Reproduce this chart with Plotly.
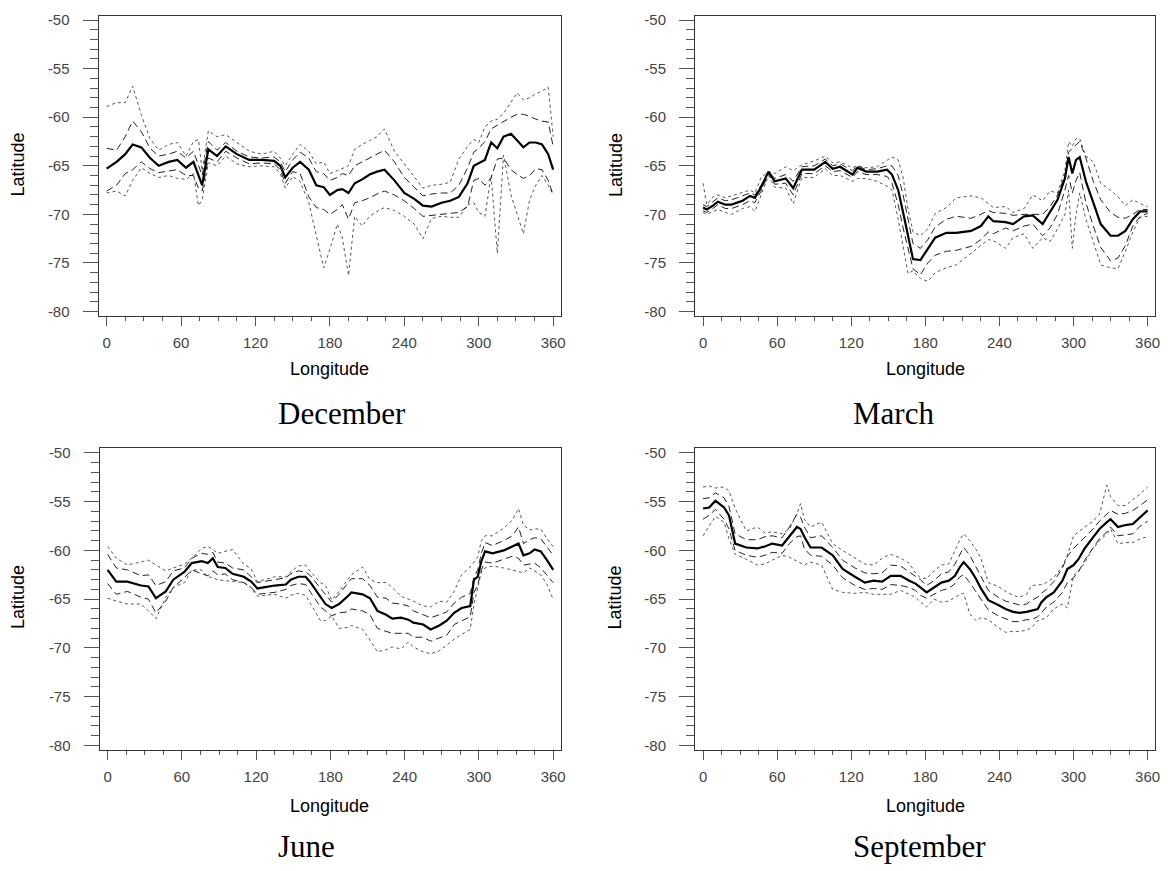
import plotly.graph_objects as go

# ---------------- DATA ----------------
months = ["December", "March", "June", "September"]
lon_ticks = [0, 60, 120, 180, 240, 300, 360]
lat_ticks = [-50, -55, -60, -65, -70, -75, -80]

dec_lon = [0, 8, 15, 21, 28, 35, 42, 50, 57, 64, 70, 74, 77, 82, 89, 96, 105, 115, 125, 135, 140, 144, 150, 156,
           163, 169, 175, 180, 186, 190, 195, 200, 206, 212, 218, 224, 232, 240, 248, 255, 262, 270, 277, 284, 291,
           296, 300, 305, 310, 315, 320, 326, 331, 336, 341, 346, 351, 356, 360]
dec_mid = [-65.3, -64.6, -63.8, -62.8, -63.1, -64.2, -65.0, -64.6, -64.4, -65.2, -64.6, -66.0, -67.0, -63.3, -64.0,
           -63.0, -63.8, -64.4, -64.4, -64.5, -65.0, -66.2, -65.2, -64.6, -65.4, -67.0, -67.2, -68.0, -67.5, -67.4,
           -67.8, -66.8, -66.4, -65.9, -65.6, -65.4, -66.5, -67.8, -68.4, -69.1, -69.2, -68.8, -68.6, -68.2, -66.8,
           -65.0, -64.7, -64.4, -62.6, -63.2, -62.0, -61.7, -62.4, -63.1, -62.6, -62.6, -62.8, -63.8, -65.4]
dec_up_in = [-63.2, -63.4, -62.0, -60.4, -61.5, -63.2, -64.0, -63.8, -63.5, -64.2, -63.5, -65.0, -66.0, -62.5, -63.4,
             -62.6, -63.5, -64.1, -64.2, -64.1, -64.6, -65.6, -64.4, -63.6, -64.2, -65.6, -65.8, -66.5, -66.2, -65.8,
             -66.0, -65.0, -64.6, -64.2, -63.8, -63.4, -64.6, -66.2, -67.2, -68.1, -67.9, -67.8, -67.8, -67.0, -65.2,
             -63.6, -63.2, -62.5, -61.2, -60.8, -60.4, -60.0, -59.7, -59.7, -59.9, -60.2, -60.4, -60.5, -63.0]
dec_up_out = [-58.9, -58.5, -58.5, -56.8, -59.8, -62.2, -63.4, -62.8, -62.6, -64.0, -62.5, -62.3, -65.5, -61.4, -62.0,
              -61.8, -62.6, -63.5, -63.8, -63.5, -64.2, -65.0, -63.8, -62.8, -63.5, -64.8, -64.6, -65.8, -65.5, -65.3,
              -65.0, -63.3, -62.8, -62.4, -62.0, -61.2, -63.5, -64.8, -66.2, -67.3, -67.0, -66.9, -66.7, -64.3, -63.0,
              -62.3, -62.6, -61.0, -60.4, -60.2, -59.6, -58.4, -57.5, -58.2, -58.0, -57.6, -57.3, -56.9, -62.0]
dec_lo_in = [-67.6, -67.0, -65.8, -65.4, -64.6, -65.3, -65.7, -65.5, -65.4, -66.0, -66.0, -67.3, -67.6, -64.2, -64.6,
             -63.5, -64.2, -64.8, -64.7, -64.8, -65.4, -66.8, -65.6, -65.8, -68.2, -69.3, -69.5, -70.0, -69.5, -69.0,
             -70.5, -68.8, -68.6, -68.3, -67.9, -67.6, -68.0, -68.6, -69.4, -70.2, -70.1, -70.0, -69.9, -69.8, -69.2,
             -66.5, -66.3, -67.0, -66.2, -64.3, -64.2, -65.4, -65.9, -66.3, -66.0, -65.3, -65.4, -66.5, -68.0]
dec_lo_out = [-67.8, -67.6, -68.1, -66.5, -65.2, -65.8, -66.2, -66.0, -66.3, -66.4, -65.8, -69.1, -68.5, -64.7, -65.0,
              -64.0, -64.8, -65.1, -65.0, -65.1, -65.8, -67.3, -66.1, -66.6, -68.8, -72.2, -75.5, -73.6, -71.0, -72.4,
              -76.3, -70.2, -71.2, -70.2, -69.7, -69.3, -69.6, -70.2, -71.0, -72.5, -70.4, -70.2, -70.3, -70.3, -69.0,
              -68.8, -69.8, -70.2, -66.0, -74.0, -63.9, -68.0, -70.0, -72.0, -68.5, -67.0, -66.0, -67.0, -68.0]

mar_lon = [0, 3, 8, 12, 18, 23, 32, 38, 42, 47, 53, 58, 67, 73, 80, 90, 99, 105, 111, 121, 125, 132, 141, 149, 153,
           158, 162, 166, 170, 176, 182, 188, 197, 205, 217, 225, 231, 235, 245, 251, 260, 267, 275, 281, 287, 293,
           296, 299, 302, 305, 310, 316, 322, 330, 336, 342, 348, 354, 360]
mar_mid = [-69.3, -69.5, -69.1, -68.7, -69.0, -69.0, -68.6, -68.1, -68.3, -67.2, -65.6, -66.6, -66.3, -67.3, -65.4,
           -65.4, -64.6, -65.3, -65.1, -65.9, -65.2, -65.6, -65.6, -65.4, -65.9, -67.5, -69.8, -72.2, -74.6, -74.7,
           -73.6, -72.4, -71.9, -71.9, -71.7, -71.2, -70.2, -70.7, -70.8, -71.0, -70.2, -70.1, -71.0, -69.8, -68.5,
           -66.3, -64.1, -65.8, -64.4, -64.1, -66.6, -68.8, -71.0, -72.2, -72.2, -71.7, -70.5, -69.7, -69.7]
mar_up_in = [-69.0, -69.2, -68.7, -68.3, -68.6, -68.5, -68.1, -67.8, -68.0, -67.0, -65.6, -66.3, -65.9, -66.6, -65.1,
             -65.0, -64.3, -65.0, -64.8, -65.5, -65.0, -65.4, -65.3, -65.0, -65.0, -66.0, -68.0, -70.6, -73.0, -73.5,
             -72.6, -71.3, -70.5, -70.2, -70.4, -70.0, -69.6, -69.8, -69.9, -70.1, -70.0, -70.0, -70.0, -69.2, -68.0,
             -66.0, -63.6, -63.2, -62.8, -62.5, -64.2, -66.6, -68.5, -69.8, -70.3, -70.4, -70.0, -69.5, -69.5]
mar_up_out = [-66.8, -69.0, -68.2, -68.0, -68.3, -68.1, -67.8, -67.5, -67.8, -66.2, -65.6, -65.8, -65.1, -65.5, -64.9,
              -64.5, -64.0, -64.7, -64.6, -65.2, -65.0, -65.2, -65.1, -64.4, -64.1, -64.4, -66.2, -69.5, -71.8, -72.2,
              -71.5, -69.9, -69.3, -68.3, -68.1, -68.3, -68.9, -69.3, -69.2, -69.8, -69.4, -68.0, -68.6, -67.6, -67.8,
              -65.5, -62.5, -63.0, -62.2, -62.2, -64.0, -64.6, -66.8, -67.5, -68.2, -69.1, -68.5, -68.9, -69.2]
mar_lo_in = [-69.6, -69.8, -69.4, -69.0, -69.4, -69.4, -69.0, -68.6, -68.8, -67.6, -65.8, -66.9, -66.8, -68.0, -65.8,
             -65.8, -65.0, -65.6, -65.5, -66.2, -65.6, -65.9, -65.9, -66.1, -66.8, -69.0, -71.4, -73.5, -75.6, -76.2,
             -75.0, -74.2, -73.8, -73.7, -73.3, -72.6, -71.8, -72.0, -71.4, -71.7, -71.2, -71.0, -72.2, -71.4, -70.0,
             -67.5, -66.0, -67.8, -66.5, -65.7, -68.8, -71.2, -73.4, -74.8, -74.5, -73.2, -71.2, -70.2, -69.9]
mar_lo_out = [-69.8, -70.0, -69.7, -69.5, -69.8, -70.0, -69.4, -69.2, -69.7, -68.0, -66.0, -67.2, -67.3, -68.9, -66.2,
              -66.2, -65.3, -66.0, -66.0, -66.6, -66.3, -66.3, -66.6, -67.1, -67.5, -70.5, -73.5, -76.1, -75.8, -76.6,
              -76.9, -76.0, -75.5, -75.2, -74.0, -73.2, -72.6, -72.7, -73.5, -72.4, -72.0, -73.5, -72.4, -72.8, -71.5,
              -70.0, -67.5, -73.5, -70.0, -67.8, -70.5, -72.8, -75.2, -75.5, -75.6, -73.8, -71.8, -70.3, -70.2]

jun_lon = [0, 7, 16, 27, 33, 39, 47, 53, 62, 68, 76, 81, 85, 89, 95, 101, 110, 116, 121, 135, 144, 148, 154, 160, 164,
           172, 176, 181, 187, 194, 197, 206, 212, 218, 225, 230, 237, 243, 247, 255, 261, 268, 274, 280, 286, 293,
           296, 299, 302, 305, 311, 320, 327, 332, 336, 341, 345, 350, 355, 360]
jun_mid = [-62.0, -63.2, -63.2, -63.6, -63.7, -64.9, -64.2, -63.0, -62.2, -61.3, -61.1, -61.3, -60.8, -61.7, -61.8,
           -62.4, -62.7, -63.2, -63.9, -63.6, -63.5, -63.0, -62.7, -62.7, -63.3, -64.7, -65.5, -65.9, -65.5, -64.7,
           -64.3, -64.5, -64.9, -66.2, -66.6, -67.0, -66.9, -67.1, -67.4, -67.6, -68.1, -67.7, -67.2, -66.4, -65.9,
           -65.7, -63.0, -62.7, -61.1, -60.1, -60.3, -60.0, -59.6, -59.3, -60.5, -60.3, -59.9, -60.1, -61.0, -62.0]
jun_up_in = [-60.4, -61.8, -62.0, -62.6, -62.5, -63.6, -63.2, -62.1, -61.8, -60.8, -60.3, -60.4, -60.2, -61.2, -61.3,
             -61.8, -62.0, -62.7, -63.3, -63.0, -62.8, -62.4, -62.1, -62.2, -62.6, -63.9, -64.5, -65.3, -64.5, -63.3,
             -62.9, -62.9, -63.6, -64.8, -64.9, -65.4, -65.5, -65.7, -66.2, -66.6, -66.9, -66.6, -66.3, -65.4, -64.8,
             -64.4, -62.8, -62.0, -60.3, -59.2, -59.5, -59.0, -58.5, -57.6, -59.3, -58.9, -58.7, -58.8, -59.6, -60.5]
jun_up_out = [-59.6, -60.8, -61.5, -61.2, -61.0, -61.5, -62.1, -61.8, -61.4, -60.8, -59.8, -59.6, -59.9, -60.3, -60.1,
              -59.9, -61.4, -61.9, -63.2, -62.7, -62.7, -62.2, -61.6, -61.5, -62.2, -63.3, -63.6, -65.1, -64.2, -63.0,
              -62.5, -61.7, -63.0, -63.3, -63.3, -63.8, -64.7, -65.0, -65.2, -65.7, -65.8, -65.2, -65.3, -64.2, -62.5,
              -61.7, -61.2, -60.7, -59.0, -58.5, -58.5, -57.7, -56.9, -55.7, -57.4, -57.9, -57.8, -57.8, -58.8, -59.6]
jun_lo_in = [-63.4, -64.5, -64.2, -64.8, -65.0, -66.4, -65.2, -63.8, -62.8, -62.0, -62.4, -62.6, -62.1, -62.5, -62.4,
             -63.0, -63.3, -63.8, -64.5, -64.3, -64.0, -63.6, -63.4, -63.5, -64.3, -65.8, -66.2, -66.7, -66.4, -66.3,
             -66.0, -66.2, -66.6, -68.0, -68.3, -68.5, -68.5, -68.5, -68.9, -68.9, -69.3, -69.0, -68.7, -67.6, -67.2,
             -66.8, -64.3, -63.6, -62.0, -61.2, -61.3, -60.9, -60.6, -60.8, -61.5, -61.4, -61.3, -61.8, -62.5, -63.3]
jun_lo_out = [-64.9, -65.2, -65.5, -65.5, -66.2, -67.0, -64.8, -63.8, -63.3, -62.0, -62.0, -62.7, -62.8, -63.0, -63.1,
              -63.2, -63.3, -63.8, -64.7, -64.5, -64.9, -64.6, -64.4, -64.6, -65.5, -67.2, -67.2, -66.7, -68.0, -67.9,
              -67.7, -68.1, -69.2, -70.4, -70.2, -69.9, -70.1, -69.4, -69.9, -70.4, -70.6, -70.3, -69.7, -69.1, -68.6,
              -68.1, -65.5, -63.7, -62.2, -61.8, -61.6, -61.8, -62.0, -62.2, -62.3, -61.8, -62.1, -62.5, -63.5, -65.0]

sep_lon = [0, 5, 10, 17, 21, 26, 35, 44, 50, 56, 64, 70, 76, 79, 82, 87, 96, 105, 113, 123, 131, 138, 145, 152, 160,
           167, 172, 176, 181, 187, 193, 199, 204, 208, 211, 216, 221, 225, 231, 239, 245, 251, 256, 262, 266, 271,
           274, 278, 284, 291, 295, 300, 304, 309, 315, 321, 327, 330, 336, 342, 348, 354, 360]
sep_mid = [-55.7, -55.6, -54.9, -55.6, -56.4, -59.3, -59.7, -59.8, -59.6, -59.3, -59.5, -58.5, -57.6, -57.8, -58.6,
           -59.7, -59.7, -60.5, -61.9, -62.7, -63.3, -63.1, -63.2, -62.6, -62.6, -63.1, -63.4, -63.8, -64.3, -63.8,
           -63.3, -63.1, -62.6, -61.7, -61.2, -61.9, -62.9, -63.9, -65.1, -65.6, -66.0, -66.3, -66.4, -66.3, -66.2,
           -66.0, -65.3, -64.8, -64.3, -63.1, -61.9, -61.5, -60.9, -59.8, -58.8, -57.8, -57.1, -56.8, -57.6, -57.4,
           -57.3, -56.6, -55.9]
sep_up_in = [-54.7, -54.6, -54.1, -54.6, -55.5, -58.3, -58.9, -58.9, -58.6, -58.5, -58.7, -57.6, -56.3, -56.6, -57.6,
             -58.7, -58.5, -59.7, -61.0, -61.8, -62.3, -62.4, -62.3, -61.5, -61.6, -62.2, -62.6, -63.0, -63.6, -63.1,
             -62.4, -62.2, -61.4, -60.4, -59.7, -60.5, -61.7, -62.8, -64.1, -64.8, -65.2, -65.4, -65.6, -65.5, -65.1,
             -64.8, -64.4, -64.0, -63.2, -61.8, -60.6, -59.8, -59.3, -58.7, -57.9, -57.0, -56.2, -55.9, -56.3, -56.2,
             -55.9, -55.4, -54.8]
sep_up_out = [-53.5, -53.4, -53.6, -53.5, -53.9, -55.7, -58.0, -57.6, -58.2, -58.1, -58.3, -57.8, -56.2, -55.2, -56.8,
              -57.6, -57.1, -59.3, -60.0, -60.8, -61.4, -61.5, -60.8, -60.4, -60.8, -61.3, -62.3, -62.8, -62.9, -62.1,
              -61.5, -61.4, -60.0, -58.9, -58.3, -59.0, -59.9, -60.8, -63.3, -63.7, -64.2, -64.6, -64.8, -64.5, -63.6,
              -63.5, -63.5, -63.3, -62.8, -61.6, -60.5, -58.5, -58.1, -57.6, -57.1, -56.3, -53.3, -54.5, -55.4, -55.4,
              -54.8, -54.2, -53.5]
sep_lo_in = [-56.8, -56.4, -55.8, -56.8, -57.8, -60.0, -60.5, -60.7, -60.5, -60.2, -60.3, -59.3, -58.6, -58.5, -59.8,
             -60.5, -60.6, -61.5, -62.8, -63.6, -64.0, -63.9, -64.0, -63.5, -63.6, -63.8, -64.1, -64.6, -64.9, -64.5,
             -64.1, -63.9, -63.4, -62.7, -62.5, -63.3, -64.2, -65.0, -66.1, -66.7, -67.0, -67.3, -67.3, -67.1, -67.1,
             -66.8, -66.4, -65.8, -65.3, -64.3, -63.3, -62.8, -62.2, -61.0, -59.9, -58.8, -58.1, -57.6, -58.5, -58.4,
             -58.3, -57.5, -57.0]
sep_lo_out = [-58.5, -57.5, -56.5, -57.1, -58.8, -60.4, -60.9, -61.5, -61.4, -61.0, -60.5, -60.7, -61.1, -61.3, -61.5,
              -61.2, -61.5, -64.0, -64.3, -64.4, -64.3, -64.5, -64.5, -64.5, -64.1, -64.5, -64.8, -65.3, -65.8, -65.0,
              -65.3, -65.2, -64.8, -64.5, -64.4, -66.5, -67.2, -66.9, -67.1, -67.9, -68.4, -68.3, -68.3, -68.2, -67.9,
              -67.2, -67.1, -66.9, -66.0, -65.5, -65.9, -62.6, -62.1, -61.3, -59.9, -59.0, -58.3, -57.8, -59.3, -59.2,
              -59.2, -58.8, -58.6]

panels = [
    (dec_lon, dec_mid, dec_up_in, dec_lo_in, dec_up_out, dec_lo_out),
    (mar_lon, mar_mid, mar_up_in, mar_lo_in, mar_up_out, mar_lo_out),
    (jun_lon, jun_mid, jun_up_in, jun_lo_in, jun_up_out, jun_lo_out),
    (sep_lon, sep_mid, sep_up_in, sep_lo_in, sep_up_out, sep_lo_out),
]

# ---------------- LAYOUT ----------------
W, H = 1171, 871
px = lambda v: v / W
py = lambda v: (H - v) / H

x_doms = [[px(99), px(563)], [px(698), px(1160)], [px(100), px(563)], [px(698), px(1160)]]
y_doms = [[py(315), py(11.7)], [py(315), py(11.7)], [py(752.5), py(448)], [py(752.5), py(448)]]

SANS = "Liberation Sans, Arial, sans-serif"
SERIF = "Liberation Serif, Times New Roman, serif"

fig = go.Figure()
layout = dict(width=W, height=H, margin=dict(l=0, r=0, t=0, b=0),
              paper_bgcolor="white", plot_bgcolor="white", showlegend=False)

for i, (lon, mid, up_in, lo_in, up_out, lo_out) in enumerate(panels):
    xa = "x" if i == 0 else f"x{i+1}"
    ya = "y" if i == 0 else f"y{i+1}"
    for ser in (up_out, lo_out):
        fig.add_trace(go.Scatter(x=lon, y=ser, mode="lines", xaxis=xa, yaxis=ya,
                                 line=dict(color="#555555", width=1, dash="3px,3px"), hoverinfo="skip"))
    for ser in (up_in, lo_in):
        fig.add_trace(go.Scatter(x=lon, y=ser, mode="lines", xaxis=xa, yaxis=ya,
                                 line=dict(color="#222222", width=1, dash="7px,4px"), hoverinfo="skip"))
    fig.add_trace(go.Scatter(x=lon, y=mid, mode="lines", xaxis=xa, yaxis=ya,
                             line=dict(color="black", width=2.2), hoverinfo="skip"))

    kx = "xaxis" if i == 0 else f"xaxis{i+1}"
    ky = "yaxis" if i == 0 else f"yaxis{i+1}"
    layout[kx] = dict(domain=x_doms[i], anchor=ya, range=[-6.5, 366],
                      tickmode="array", tickvals=lon_ticks, ticktext=[str(v) for v in lon_ticks],
                      ticks="outside", ticklen=9, tickcolor="#555555", tickwidth=1,
                      ticklabelstandoff=4,
                      minor=dict(ticks="outside", ticklen=4, dtick=15, tick0=0, tickcolor="#555555", showgrid=False),
                      showline=True, linecolor="#333333", linewidth=1, mirror=True,
                      showgrid=False, zeroline=False, fixedrange=True,
                      tickfont=dict(family=SANS, size=15, color="#444444"))
    layout[ky] = dict(domain=y_doms[i], anchor=xa, range=[-80.51, -49.54],
                      tickmode="array", tickvals=lat_ticks, ticktext=[str(v) for v in lat_ticks],
                      ticks="outside", ticklen=15, tickcolor="#555555", tickwidth=1,
                      ticklabelstandoff=10,
                      minor=dict(ticks="outside", ticklen=8, dtick=1, tick0=-80, tickcolor="#555555", showgrid=False),
                      showline=True, linecolor="#333333", linewidth=1, mirror=True,
                      showgrid=False, zeroline=False, fixedrange=True,
                      tickfont=dict(family=SANS, size=15, color="#444444"))

annotations = []
lon_title_pos = [(331, 368), (929, 368), (331, 808), (929, 808)]
lat_title_pos = [(18, 162), (618, 162), (18, 598), (618, 598)]
month_pos = [(277, 413), (855, 413), (277, 849), (855, 849)]
for i in range(4):
    annotations.append(dict(text="Longitude", xref="paper", yref="paper",
                            x=px(lon_title_pos[i][0]), y=py(lon_title_pos[i][1]),
                            xanchor="center", yanchor="middle", showarrow=False,
                            font=dict(family=SANS, size=18, color="black")))
    annotations.append(dict(text="Latitude", xref="paper", yref="paper",
                            x=px(lat_title_pos[i][0]), y=py(lat_title_pos[i][1]),
                            xanchor="center", yanchor="middle", showarrow=False, textangle=-90,
                            font=dict(family=SANS, size=18, color="black")))
    annotations.append(dict(text=months[i], xref="paper", yref="paper",
                            x=px(month_pos[i][0]), y=py(month_pos[i][1]),
                            xanchor="left", yanchor="middle", showarrow=False,
                            font=dict(family=SERIF, size=31, color="black")))
layout["annotations"] = annotations

fig.update_layout(**layout)
fig.write_html(
    "out.html",
    config={"displayModeBar": False, "staticPlot": True},
    post_script="document.body.style.margin='0';document.body.style.padding='0';"
                "document.documentElement.style.overflow='hidden';document.body.style.overflow='hidden';",
)
